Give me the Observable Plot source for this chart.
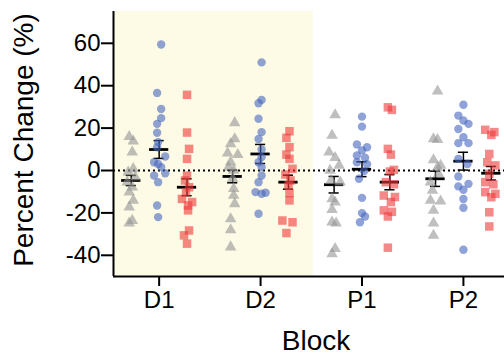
<!DOCTYPE html>
<html>
<head>
<meta charset="utf-8">
<script src="https://cdn.jsdelivr.net/npm/d3@7"></script>
<script src="https://cdn.jsdelivr.net/npm/@observablehq/plot@0.6"></script>
<style>
  html, body { margin: 0; padding: 0; background: #fff; overflow: hidden; }
</style>
</head>
<body>
<div id="chart"></div>
<script>
// ---- Data ----
const blocks = ["D1", "D2", "P1", "P2"];
const series = ["gray", "blue", "red"];
const shadedBlocks = ["D1", "D2"];
const yTicks = [-40, -20, 0, 20, 40, 60];
const yTitle = "Percent Change (%)";
const xTitle = "Block";

// individual values (percent change) per block, per series
const D1_gray = [16, 13.8, 8.6, 0.8, -0.8, -3.1, -5.5, -7.9, -10.2, -14.1, -17.3, -23.6, -24.8];
const D1_blue = [59.4, 36.6, 29, 24.7, 22, 17.8, 13.4, 11, 6.6, 3.9, 3.1, 1.6, -1.3, -2.4, -5.5, -16.5, -22];
const D1_red  = [35.7, 17.9, 10.2, 5.5, -2.4, -4.7, -7.9, -10.2, -13.4, -14.9, -16.5, -18.8, -28.3, -30.6, -34.5];
const D2_gray = [22.5, 14.9, 12.6, 8.2, 7.5, 3.9, 1.6, 0, -3.9, -8.6, -11.8, -15.7, -22.8, -28, -36.1];
const D2_blue = [51, 33.3, 31.7, 24.4, 18.1, 14.9, 9.9, 6.3, 3.9, 1.6, -2.4, -5.5, -10.2, -11, -10.5, -20.4];
const D2_red  = [18.5, 15.4, 11, 7.5, 5.5, 0.8, -1.9, -4.7, -7, -10.7, -14.1, -23.6, -24.4, -29.5];
const P1_gray = [26.2, 16.5, 8.6, 6, 2.4, 0, -4.7, -5.5, -13.4, -14.9, -18.5, -24.4, -24.8, -36.9, -39.3];
const P1_blue = [25.4, 20.7, 12.3, 11, 9.5, 7.1, 6, 3.9, 3, -0.3, -3.9, -12.9, -20.1, -21.7, -24.4];
const P1_red  = [29.8, 28.6, 10.2, 7.5, 0.3, -0.5, -5.5, -6.5, -11.8, -12.5, -14.9, -18.8, -19.5, -21.7, -36.4];
const P2_gray = [37.4, 14.9, 14.5, 5, 2.4, 1.5, -1.6, -5.5, -9.4, -14.1, -14.5, -18.8, -24.8, -30.6];
const P2_blue = [31, 25.9, 23.6, 22, 19.6, 15.7, 12.9, 12.9, 5.5, 3.1, -2.8, -6.3, -7.5, -9.1, -13.4, -17.6, -37.4];
const P2_red  = [19.2, 18.1, 16.8, 7.8, 3.9, 2.4, -1.6, -5.5, -6.5, -10.2, -11, -12.6, -19.7, -26.4];

// horizontal scatter of each point (block units)
const D1_gray_j = [-0.02, 0.02, 0.01, 0.02, -0.03, 0.04, -0.04, 0.01, -0.02, 0.02, -0.02, 0.01, -0.02];
const D1_blue_j = [0.02, -0.02, 0.02, 0.02, -0.02, -0.02, -0.01, -0.02, 0.06, -0.05, -0.01, 0.02, 0.06, -0.05, -0.01, -0.02, -0.01];
const D1_red_j  = [0, 0, 0.02, 0, 0, -0.02, 0.02, -0.01, -0.05, 0.05, 0.01, 0.01, 0.02, -0.03, 0];
const D2_gray_j = [0.02, 0.02, -0.02, -0.05, 0.05, -0.02, -0.04, 0.01, 0, 0.01, 0.01, 0.02, -0.02, -0.02, -0.02];
const D2_blue_j = [0.01, 0.01, -0.02, -0.02, 0.01, -0.02, 0.01, 0.01, -0.02, 0.01, 0.01, -0.02, -0.05, 0.01, 0.05, -0.02];
const D2_red_j  = [0.01, -0.02, 0.01, -0.02, 0.01, 0.04, -0.03, 0.02, 0, 0.01, 0.01, -0.06, 0.04, -0.02];
const P1_gray_j = [0.01, -0.02, -0.05, 0.01, 0.05, -0.04, -0.03, 0.06, -0.02, 0.01, -0.02, -0.02, 0.02, 0.01, -0.02];
const P1_blue_j = [0, 0, -0.05, 0.05, 0, -0.05, 0.03, -0.05, 0.05, 0.02, -0.03, 0, 0, 0.03, -0.02];
const P1_red_j  = [-0.02, 0.02, -0.02, 0.01, 0.04, 0, -0.04, 0.04, -0.06, 0.05, 0.01, -0.06, 0.02, -0.02, -0.02];
const P2_gray_j = [0.02, -0.02, 0.02, -0.02, 0.05, 0.02, 0.03, -0.05, -0.03, -0.05, 0.05, -0.02, -0.02, -0.02];
const P2_blue_j = [0, -0.05, 0, 0.05, -0.05, 0, -0.05, 0.05, -0.05, 0.04, -0.05, 0.05, -0.05, 0, 0, 0, 0];
const P2_red_j  = [-0.06, 0.03, 0, -0.02, -0.04, 0.04, -0.02, -0.06, 0.02, -0.06, 0.04, 0, -0.02, -0.02];

// group mean and SEM per block (order: gray, blue, red)
const means = {D1: [-4.7, 9.9, -7.9], D2: [-2.8, 7.8, -5.5], P1: [-6.7, 0.6, -5.5], P2: [-3.9, 4.4, -1.3]};
const sems  = {D1: [2.4, 4.2, 4.0],   D2: [3.0, 4.5, 3.3],   P1: [3.9, 3.5, 3.6],   P2: [3.6, 4.2, 3.2]};

// ---- Build tables ----
const valueSets = {
  D1: [D1_gray, D1_blue, D1_red], D2: [D2_gray, D2_blue, D2_red],
  P1: [P1_gray, P1_blue, P1_red], P2: [P2_gray, P2_blue, P2_red]
};
const jitterSets = {
  D1: [D1_gray_j, D1_blue_j, D1_red_j], D2: [D2_gray_j, D2_blue_j, D2_red_j],
  P1: [P1_gray_j, P1_blue_j, P1_red_j], P2: [P2_gray_j, P2_blue_j, P2_red_j]
};
const GROUP_OFFSET = 0.275;  // layout: spacing of the three groups inside a block
const BAR_HALF = 0.095, CAP_HALF = 0.05;
const groupX = (b, s) => blocks.indexOf(b) + 1 + (s - 1) * GROUP_OFFSET;

const points = [];
for (const b of blocks) {
  series.forEach((name, s) => {
    valueSets[b][s].forEach((v, i) => {
      points.push({block: b, series: name, value: v, x: groupX(b, s) + jitterSets[b][s][i]});
    });
  });
}
const stats = [];
for (const b of blocks) {
  series.forEach((name, s) => {
    stats.push({block: b, series: name, x: groupX(b, s), mean: means[b][s], lo: means[b][s] - sems[b][s], hi: means[b][s] + sems[b][s]});
  });
}

const xDomain = [0.55, 4.405];
const yDomain = [-50, 75];
const shadeEnd = blocks.indexOf(shadedBlocks[shadedBlocks.length - 1]) + 1 + 0.52;

const colors = {gray: "#959595", blue: "#4466c0", red: "#ef3838"};
const symbols = {gray: "triangle", blue: "circle", red: "square"};
const radii = {gray: 4.3, blue: 4.2, red: 4.8};

const chart = Plot.plot({
  width: 504,
  height: 356,
  marginTop: 11,
  marginBottom: 80,
  marginLeft: 113,
  marginRight: 0,
  style: {fontFamily: "'Liberation Sans', Arial, sans-serif", fontSize: "24px", color: "#000", background: "#fff"},
  x: {type: "linear", domain: xDomain},
  y: {domain: yDomain},
  marks: [
    Plot.rect([shadedBlocks], {x1: xDomain[0], x2: shadeEnd, y1: yDomain[0], y2: yDomain[1], fill: "#fdfbe6"}),
    Plot.ruleY([0], {stroke: "#000", strokeWidth: 2, strokeDasharray: "2,3"}),
    // SEM bars
    Plot.ruleX(stats, {x: "x", y1: "lo", y2: "hi", stroke: "#000", strokeWidth: 1.5}),
    Plot.ruleY(stats, {y: "lo", x1: d => d.x - CAP_HALF, x2: d => d.x + CAP_HALF, stroke: "#000", strokeWidth: 1.5}),
    Plot.ruleY(stats, {y: "hi", x1: d => d.x - CAP_HALF, x2: d => d.x + CAP_HALF, stroke: "#000", strokeWidth: 1.5}),
    // mean bars
    Plot.ruleY(stats, {y: "mean", x1: d => d.x - BAR_HALF, x2: d => d.x + BAR_HALF, stroke: "#000", strokeWidth: 2.8}),
    // points
    ...series.map(name => Plot.dot(points.filter(d => d.series === name), {
      x: "x", y: "value", symbol: symbols[name], r: radii[name],
      fill: colors[name], fillOpacity: 0.6, stroke: "none"
    })),
    // axes
    Plot.ruleX([xDomain[0]], {stroke: "#000", strokeWidth: 2}),
    Plot.ruleY([yDomain[0]], {stroke: "#000", strokeWidth: 2}),
    Plot.axisY({ticks: yTicks, tickSize: 12, tickPadding: 1, strokeWidth: 2, label: null, tickFormat: d => String(d)}),
    Plot.axisX({ticks: blocks.map((b, i) => i + 1), tickFormat: i => blocks[i - 1], tickSize: 10, tickPadding: 4, strokeWidth: 2, label: null}),
    Plot.text([yTitle], {frameAnchor: "left", textAnchor: "middle", rotate: -90, dx: -89, dy: -4, fontSize: 28, lineAnchor: "middle"}),
    Plot.text([xTitle], {frameAnchor: "bottom", dx: 7, dy: 65, fontSize: 28, lineAnchor: "middle"})
  ]
});
document.getElementById("chart").append(chart);
</script>
</body>
</html>
